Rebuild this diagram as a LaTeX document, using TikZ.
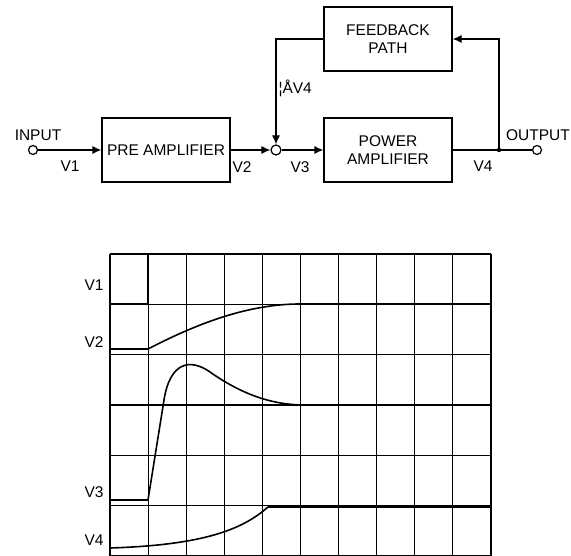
\documentclass[tikz,border=0pt]{standalone}
\usepackage{fontspec}
\setmainfont{Liberation Sans}
\usetikzlibrary{arrows.meta,positioning,calc}

\tikzset{
  blockbox/.style={draw,line width=1.2pt,minimum width=128pt,minimum height=64pt,align=center,inner sep=0pt},
  port/.style={draw,line width=1.2pt,circle,fill=white,minimum size=9pt,inner sep=0pt},
  sigline/.style={line width=1.2pt,-{Latex[length=9pt,width=8pt]}},
  gridline/.style={line width=1.1pt},
  trace/.style={line width=1.6pt},
  level/.style={line width=2.6pt}
}

\begin{document}
\begin{tikzpicture}[x=1pt,y=-1pt,font=\fontsize{15.5}{18.5}\selectfont]
  \useasboundingbox (0,0) rectangle (571,556);
  % block diagram
  \node[blockbox] (pre) at (166,150) {PRE AMPLIFIER};
  \node[blockbox] (pow) at (388,150) {POWER\\AMPLIFIER};
  \node[blockbox] (fb) at (388,39) {FEEDBACK\\PATH};
  \node[port] (in) at (33,150) {};
  \node[port,minimum size=10pt] (sum) at (276,150) {};
  \node[port] (out) at (537,150) {};
  \coordinate (tap) at (499,150);
  \draw[sigline] (in) -- (pre);
  \draw[sigline] (pre) -- (sum);
  \draw[sigline] (sum) -- (pow);
  \draw[line width=1.2pt] (pow) -- (out);
  \draw[sigline] (tap) |- (fb.east);
  \draw[sigline] (fb.west) -| (sum);
  \fill (tap) circle (2.2pt);
  \node (lin) at (38,135) {INPUT};
  \node[anchor=east,inner sep=1pt] (lout) at (571,135) {OUTPUT};
  \node (lv1) at (70,166) {V1};
  \node (lv2) at (242,167) {V2};
  \node (lv3) at (300,167) {V3};
  \node (lv4) at (483,166) {V4};
  \node[anchor=west] (lfb) at (275,88) {¦ÅV4};
  % waveform grid
  \foreach \i in {0,...,10}
    \draw[gridline] ({110+38.1*\i},254) -- ({110+38.1*\i},556);
  \foreach \j in {0,...,6}
    \draw[gridline] (110,{254+50.33*\j}) -- (491,{254+50.33*\j});
  \node (gv1) at (94,285) {V1};
  \node (gv2) at (94,342) {V2};
  \node (gv3) at (94,492) {V3};
  \node (gv4) at (94,540) {V4};
  % traces
  \draw[level] (110,304) -- (148,304) -- (148,254);
  \draw[trace] (110,349) -- (148,349) .. controls (200,322) and (250,304) .. (300,304);
  \draw[level] (300,304) -- (491,304);
  \draw[trace] (110,500) -- (148,500) -- (164,400) .. controls (170,362) and (190,358) .. (210,372)
    .. controls (240,393) and (270,405) .. (305,405);
  \draw[level] (305,405) -- (491,405);
  \draw[trace] (110,548) .. controls (205,545) and (243,529) .. (268,507);
  \draw[level] (268,507) -- (491,507);
\end{tikzpicture}
\end{document}
